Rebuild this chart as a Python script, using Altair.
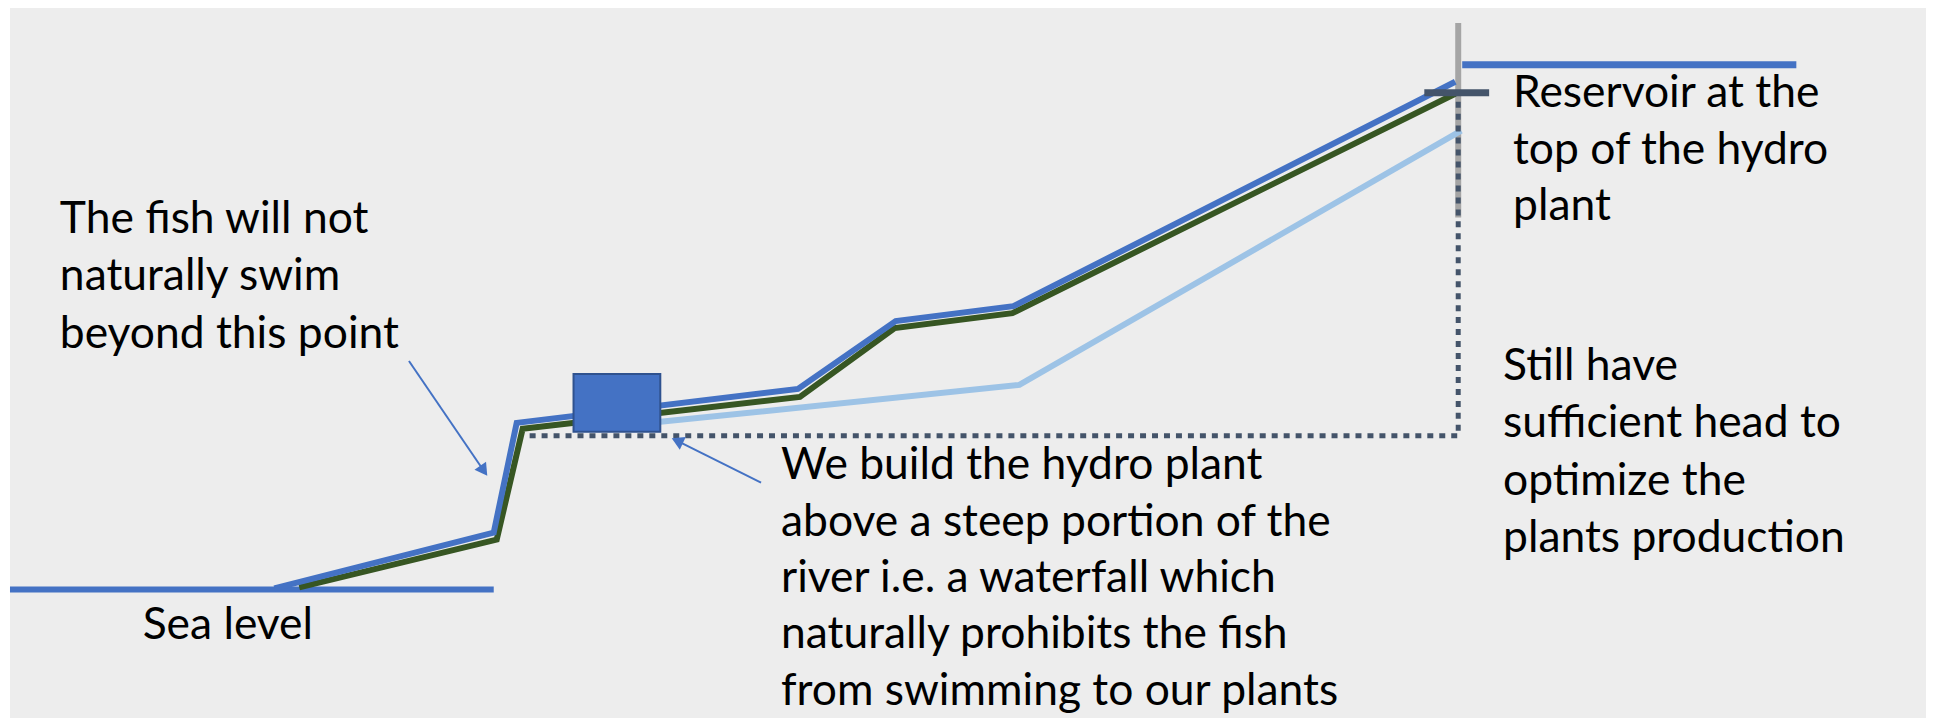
import altair as alt
import pandas as pd

# ---- diagram data (reference pixel coordinates: x right, y down) ----
blue_x = [275, 495, 518, 800, 898, 1016, 1459]
blue_y = [589, 533, 423, 389, 321, 306, 81]
green_x = [300, 498, 524, 802, 897, 1015, 1459]
green_y = [588, 540, 429, 397, 328, 313, 93]
light_x = [662, 1022, 1465]
light_y = [422, 385, 130]
dotted_x = [531, 1462, 1462]
dotted_y = [436, 436, 100]

sea_x, sea_x2, sea_y = 10, 495, 590
res_x, res_x2, res_y = 1466, 1801, 64
post_x, post_y, post_y2 = 1462, 22, 217
tick_x, tick_x2, tick_y = 1428, 1493, 92
box_x, box_x2, box_y, box_y2 = 575, 662, 374, 432
bg_x, bg_x2, bg_y, bg_y2 = 10, 1931, 4, 726

arrow_tail_x = [410, 763]
arrow_tail_y = [361, 483]
arrow_head_x = [485, 679]
arrow_head_y = [471, 441]
arrow_angle = [145, 295]

text_lines = [
    "The fish will not", "naturally swim", "beyond this point",
    "Sea level",
    "Reservoir at the", "top of the hydro", "plant",
    "Still have", "sufficient head to", "optimize the", "plants production",
    "We build the hydro plant", "above a steep portion of the",
    "river i.e. a waterfall which", "naturally prohibits the fish",
    "from swimming to our plants",
]
text_x = [60, 60, 60, 143, 1517, 1517, 1517, 1507, 1507, 1507, 1507,
          783, 783, 783, 783, 783]
text_y = [233, 290, 348, 640, 106, 163, 220, 380, 437, 495, 552,
          479, 536, 593, 649, 706]

BLUE = "#4472C4"
GREEN = "#375623"
LIGHT = "#9DC3E6"
DARK = "#44546A"
GRAY = "#A5A5A5"
BG = "#EDEDED"
FONT = "Lato"
FS = 44.5

W, H = 1923, 710
xs = alt.Scale(domain=[8, 8 + W], nice=False, zero=False)
ys = alt.Scale(domain=[8, 8 + H], nice=False, zero=False, reverse=True)


def X(f="x"):
    return alt.X(f, type="quantitative", scale=xs, axis=None)


def Y(f="y"):
    return alt.Y(f, type="quantitative", scale=ys, axis=None)


def poly(xv, yv):
    return pd.DataFrame({"x": xv, "y": yv, "i": list(range(len(xv)))})


def seg(x, y, x2, y2):
    return pd.DataFrame({"x": [x], "y": [y], "x2": [x2], "y2": [y2]})


bg = alt.Chart(seg(bg_x, bg_y, bg_x2, bg_y2)).mark_rect(color=BG).encode(
    x=X(), y=Y(), x2="x2", y2="y2")

sea = alt.Chart(seg(sea_x, sea_y, sea_x2, sea_y)).mark_rule(
    color=BLUE, strokeWidth=6).encode(x=X(), y=Y(), x2="x2", y2="y2")

res = alt.Chart(seg(res_x, res_y, res_x2, res_y)).mark_rule(
    color=BLUE, strokeWidth=7).encode(x=X(), y=Y(), x2="x2", y2="y2")

post = alt.Chart(seg(post_x, post_y, post_x, post_y2)).mark_rule(
    color=GRAY, strokeWidth=6).encode(x=X(), y=Y(), x2="x2", y2="y2")


def line(xv, yv, color, w=6, dash=None):
    kw = dict(color=color, strokeWidth=w, strokeCap="butt", strokeJoin="miter")
    if dash:
        kw["strokeDash"] = dash
    return alt.Chart(poly(xv, yv)).mark_line(**kw).encode(
        x=X(), y=Y(), order=alt.Order("i:Q"))


light = line(light_x, light_y, LIGHT, 6)
green = line(green_x, green_y, GREEN, 6)
blue = line(blue_x, blue_y, BLUE, 6)
dotted = line(dotted_x, dotted_y, DARK, 5, [6, 6])

tick = alt.Chart(seg(tick_x, tick_y, tick_x2, tick_y)).mark_rule(
    color=DARK, strokeWidth=7).encode(x=X(), y=Y(), x2="x2", y2="y2")

box = alt.Chart(seg(box_x, box_y, box_x2, box_y2)).mark_rect(
    color=BLUE, stroke="#2F528F", strokeWidth=2).encode(
    x=X(), y=Y(), x2="x2", y2="y2")

arrows = pd.DataFrame({"x": arrow_tail_x, "y": arrow_tail_y,
                       "x2": arrow_head_x, "y2": arrow_head_y,
                       "a": arrow_angle})
shafts = alt.Chart(arrows).mark_rule(color=BLUE, strokeWidth=2).encode(
    x=X(), y=Y(), x2="x2", y2="y2")
heads = alt.Chart(arrows).mark_point(
    shape="triangle-up", filled=True, color=BLUE, size=200, opacity=1).encode(
    x=X("x2"), y=Y("y2"), angle=alt.Angle("a:Q", scale=None))

texts = alt.Chart(pd.DataFrame({"t": text_lines, "x": text_x, "y": text_y})).mark_text(
    align="left", baseline="alphabetic", font=FONT, fontSize=FS, color="black").encode(
    x=X(), y=Y(), text="t:N")

chart = alt.layer(bg, sea, res, post, light, green, blue, dotted, tick, box,
                  shafts, heads, texts).properties(
    width=W, height=H, padding=0,
    autosize=alt.AutoSizeParams(type="none"),
).configure_view(stroke=None)

chart.save("out.html", embed_options={"renderer": "svg", "actions": False})
